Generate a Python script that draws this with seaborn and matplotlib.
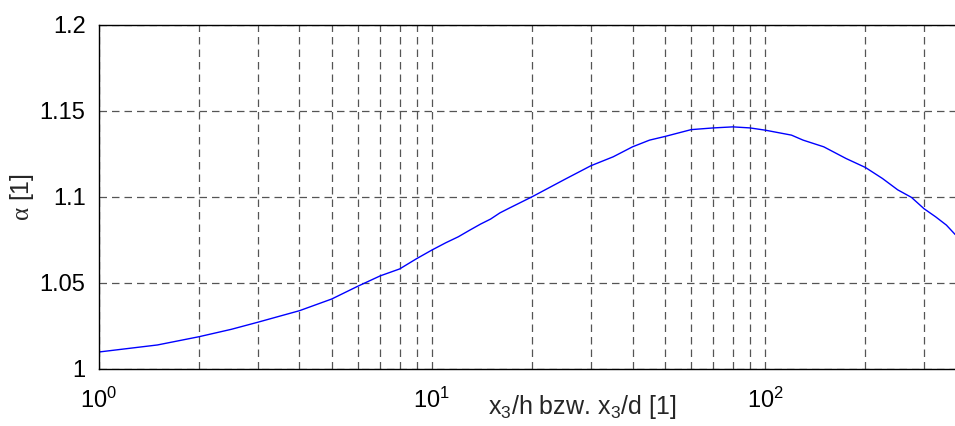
import numpy as np
import pandas as pd
import matplotlib
matplotlib.use('Agg')
import matplotlib.pyplot as plt
import seaborn as sns
from matplotlib.ticker import FixedLocator, LogLocator, FuncFormatter

# -----------------------------
# Data
# -----------------------------
x_ratio = [1, 1.5, 2, 2.5, 3, 3.5, 4, 5, 6, 7, 8, 9, 10, 11, 12, 13, 14, 15,
           16, 17, 20, 25, 30, 35, 40, 45, 50, 60, 70, 80, 90, 100, 120, 130,
           150, 175, 200, 225, 250, 275, 300, 325, 350, 372]
alpha = [1.0097, 1.0138, 1.0186, 1.0229, 1.027, 1.0306, 1.0337, 1.0405,
         1.048, 1.054, 1.058, 1.064, 1.069, 1.0732, 1.0767, 1.0806, 1.0841,
         1.087, 1.0906, 1.0932, 1.100, 1.110, 1.118, 1.1232, 1.129, 1.1329,
         1.135, 1.139, 1.140, 1.1406, 1.140, 1.1387, 1.1358, 1.1329, 1.129,
         1.1222, 1.117, 1.1106, 1.104, 1.0996, 1.093, 1.0883, 1.0835, 1.078]

y_ticks = [1.0, 1.05, 1.1, 1.15, 1.2]

df = pd.DataFrame({'x': x_ratio, 'alpha': alpha})

# -----------------------------
# Style
# -----------------------------
sns.set_style('white')
plt.rcParams['font.family'] = ['Liberation Sans', 'DejaVu Sans']
plt.rcParams['mathtext.fontset'] = 'custom'
plt.rcParams['mathtext.rm'] = 'Liberation Sans'
plt.rcParams['mathtext.it'] = 'Liberation Sans:italic'
plt.rcParams['mathtext.sf'] = 'Liberation Serif'
plt.rcParams['mathtext.default'] = 'regular'

fs = 17

fig = plt.figure(figsize=(9.55, 4.26), dpi=100)
ax = fig.add_axes([0.1034, 0.1345, 0.8966, 0.8075])

sns.lineplot(data=df, x='x', y='alpha', ax=ax, color='#0000ff', linewidth=1.0)

ax.set_xscale('log')
ax.set_xlim(1, 371.5)
ax.set_ylim(1.0, 1.2)

ax.yaxis.set_major_locator(FixedLocator(y_ticks))
ax.yaxis.set_major_formatter(FuncFormatter(lambda v, p: f'{v:g}'))
ax.xaxis.set_major_locator(LogLocator(base=10))
ax.xaxis.set_minor_locator(LogLocator(base=10, subs=np.arange(2, 10)))

grid_kw = dict(color='#555555', linestyle=(0, (6, 4)), linewidth=0.9)
ax.grid(True, which='major', axis='both', **grid_kw)
ax.grid(True, which='minor', axis='x', **grid_kw)

ax.tick_params(axis='both', which='both', direction='in', colors='black',
               labelsize=fs)
ax.tick_params(axis='both', which='major', length=5, width=0.8)
ax.tick_params(axis='x', which='minor', length=3, width=0.8)
ax.tick_params(axis='y', pad=9.5)
ax.tick_params(axis='x', pad=14)

for side in ['left', 'top', 'bottom']:
    ax.spines[side].set_color('black')
    ax.spines[side].set_linewidth(1.0)
ax.spines['right'].set_visible(False)

ax.set_ylabel(r'$\mathsf{\alpha}$ [1]', fontsize=18)
ax.yaxis.set_label_coords(-0.073, 0.5)
ax.set_xlabel(r'x$_3$/h bzw. x$_3$/d [1]', fontsize=18)
ax.xaxis.set_label_coords(0.564, -0.07)

fig.savefig('out.png', dpi=100)
